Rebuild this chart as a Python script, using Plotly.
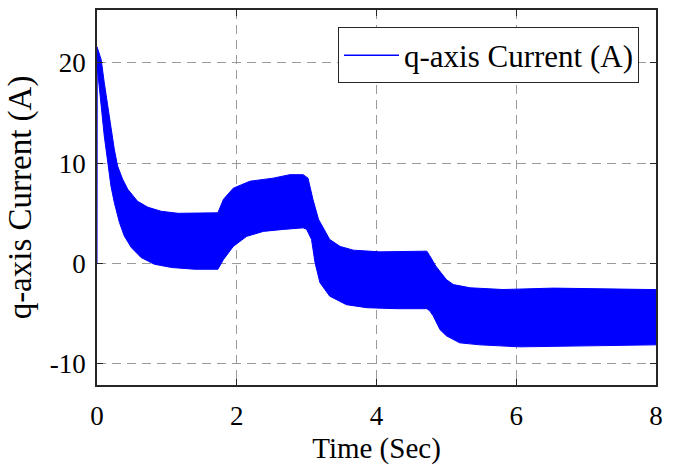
import plotly.graph_objects as go

# Envelope of the q-axis current ripple band (A) versus time (s)
t_upper = [0.0, 0.06, 0.104, 0.152, 0.2, 0.247, 0.295, 0.367, 0.44, 0.58, 0.73, 0.92,
           1.16, 1.4, 1.73, 1.81, 1.95, 2.19, 2.52, 2.76, 2.95, 3.02, 3.09, 3.17, 3.33,
           3.48, 3.67, 4.05, 4.43, 4.72, 4.76, 4.85, 5.0, 5.1, 5.34, 5.81, 6.53, 7.48, 8.0]
i_upper = [21.6, 20.3, 18.0, 15.7, 13.4, 11.4, 9.7, 8.4, 7.4, 6.2, 5.6, 5.2,
           5.0, 5.0, 5.05, 6.4, 7.5, 8.2, 8.5, 8.85, 8.85, 8.5, 6.4, 4.4, 2.4,
           1.7, 1.33, 1.16, 1.23, 1.23, 0.8, -0.27, -1.6, -2.1, -2.42, -2.59, -2.45, -2.5, -2.6]

t_lower = [0.0, 0.003, 0.02, 0.06, 0.104, 0.152, 0.2, 0.247, 0.32, 0.39, 0.49, 0.63, 0.82,
           1.07, 1.4, 1.73, 1.81, 1.95, 2.14, 2.38, 2.67, 2.95, 3.0, 3.07, 3.12, 3.19,
           3.33, 3.57, 3.86, 4.29, 4.72, 4.76, 4.81, 4.91, 5.0, 5.19, 5.48, 6.05, 7.0, 8.0]
i_lower = [0.0, 19.6, 19.0, 15.7, 12.7, 10.0, 7.7, 6.1, 4.1, 2.75, 1.6, 0.6, -0.07,
           -0.4, -0.57, -0.57, 0.4, 1.7, 2.7, 3.2, 3.4, 3.55, 3.4, 2.4, 0.1, -1.9,
           -3.25, -4.1, -4.4, -4.5, -4.5, -4.7, -5.2, -6.6, -7.2, -7.9, -8.1, -8.3, -8.2, -8.1]

x_ticks = [0, 2, 4, 6, 8]
y_ticks = [-10, 0, 10, 20]

series_name = "q-axis Current (A)"
BLUE = "#0000ff"
INK = "#262626"
FONT = "Liberation Serif, Times New Roman, DejaVu Serif, serif"

# closed outline: upper edge left-to-right, lower edge right-to-left
band_x = t_upper + t_lower[::-1]
band_y = i_upper + i_lower[::-1]

fig = go.Figure()
fig.add_trace(go.Scatter(
    x=band_x, y=band_y, mode="lines", fill="toself",
    fillcolor=BLUE, line=dict(color=BLUE, width=1),
    showlegend=False, hoverinfo="skip",
))
# legend entry drawn as a plain line
fig.add_trace(go.Scatter(
    x=[None], y=[None], mode="lines", name=series_name,
    line=dict(color=BLUE, width=1.5),
))

axis_common = dict(
    showline=True, linecolor=INK, linewidth=1.8, mirror="ticks",
    ticks="inside", ticklen=6, tickwidth=1.2, tickcolor=INK,
    showgrid=True, gridcolor="#9a9a9a", gridwidth=1, griddash="9px,6px",
    zeroline=False,
    tickfont=dict(family=FONT, size=27, color="black"),
)

fig.update_xaxes(
    range=[0, 8], tickvals=x_ticks, ticktext=[str(v) for v in x_ticks],
    ticklabelstandoff=6,
    title=dict(text="Time (Sec)", font=dict(family=FONT, size=29, color="black"),
               standoff=8),
    automargin=False,
    **axis_common,
)
fig.update_yaxes(
    range=[-12.1, 25.25], tickvals=y_ticks, ticktext=[str(v) for v in y_ticks],
    ticklabelstandoff=4,
    title=dict(text=series_name, font=dict(family=FONT, size=33, color="black"),
               standoff=8),
    automargin=False,
    **axis_common,
)

fig.update_layout(
    width=678, height=465,
    margin=dict(l=97, r=22, t=10, b=80),
    paper_bgcolor="white", plot_bgcolor="white",
    legend=dict(
        x=0.9696, y=0.9534, xanchor="right", yanchor="top",
        bgcolor="white", bordercolor=INK, borderwidth=1,
        font=dict(family=FONT, size=31, color="black"),
        itemwidth=55,
    ),
)

fig.write_html("out.html")
